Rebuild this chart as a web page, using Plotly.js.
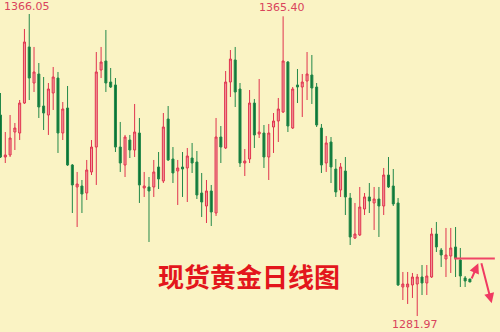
<!DOCTYPE html>
<html>
<head>
<meta charset="utf-8">
<script src="https://cdn.plot.ly/plotly-3.0.1.min.js"></script>
<style>html,body{margin:0;padding:0;background:#faf3c4;}#chart{width:500px;height:332px;}</style>
</head>
<body>
<div id="chart"></div>
<script>
// Daily spot-gold candles
const openP = [1337.93,1326.24,1326.80,1333.20,1332.92,1341.27,1356.87,1346.84,1349.35,1340.44,
1337.93,1344.06,1348.23,1332.92,1339.88,1324.01,1317.89,1318.17,1316.22,1322.07,
1329.02,1350.46,1352.97,1347.12,1346.29,1329.02,1324.01,1330.97,1328.19,1332.92,
1317.61,1317.89,1317.89,1323.46,1319.56,1336.82,1325.68,1322.34,1323.46,1323.18,
1325.96,1324.85,1316.22,1312.60,1316.78,1310.65,1331.81,1328.75,1347.12,1353.25,
1345.17,1324.57,1325.68,1341.27,1332.64,1332.92,1326.24,1334.59,1336.26,1338.77,
1352.69,1334.31,1346.29,1345.73,1347.40,1349.07,1345.73,1334.31,1324.57,1330.42,
1322.90,1317.05,1322.34,1314.83,1303.69,1304.53,1311.76,1315.11,1313.44,1314.55,
1312.60,1321.23,1318.17,1313.44,1290.05,1290.05,1290.61,1290.88,1292.83,1291.16,
1292.83,1304.80,1300.35,1297.84,1298.68,1301.19,1297.57,1292.56,1292.28];
const highP = [1344.06,1333.20,1337.93,1335.71,1342.11,1361.88,1366.05,1356.87,1352.41,1348.51,
1346.84,1351.30,1349.91,1341.55,1346.01,1324.29,1322.07,1319.84,1325.41,1330.97,
1355.47,1356.87,1361.60,1351.02,1348.23,1335.99,1332.37,1332.37,1341.00,1337.10,
1322.07,1320.67,1325.41,1327.63,1338.49,1340.44,1329.02,1325.41,1327.63,1328.75,
1330.14,1327.91,1321.79,1319.84,1318.45,1337.10,1334.87,1350.18,1356.03,1356.87,
1346.84,1328.47,1344.89,1342.39,1347.96,1335.15,1335.43,1338.49,1342.67,1365.40,
1352.97,1345.73,1350.74,1349.35,1355.47,1354.64,1346.84,1335.43,1332.09,1331.81,
1325.68,1324.57,1326.24,1316.22,1313.44,1317.89,1316.22,1319.00,1317.89,1317.89,
1323.18,1326.24,1322.90,1314.83,1294.23,1294.23,1293.95,1293.67,1296.17,1296.17,
1306.48,1308.15,1300.91,1306.48,1306.48,1306.75,1300.91,1293.11,1292.28];
const lowP = [1325.96,1324.57,1326.24,1328.19,1330.97,1341.00,1342.11,1344.34,1337.10,1333.76,
1332.37,1339.33,1327.36,1330.97,1323.74,1310.65,1306.75,1310.65,1314.27,1321.23,
1318.45,1348.23,1344.34,1345.45,1327.63,1322.07,1320.67,1325.96,1326.24,1313.44,
1315.11,1302.58,1315.11,1317.33,1319.00,1325.13,1319.00,1312.88,1315.11,1313.71,
1321.79,1314.55,1309.54,1307.87,1307.03,1309.82,1324.57,1328.47,1342.95,1340.16,
1323.46,1320.95,1324.57,1328.75,1331.53,1323.18,1319.84,1327.36,1330.42,1338.49,
1333.20,1334.04,1341.27,1337.38,1342.11,1341.00,1334.59,1321.79,1322.07,1319.00,
1315.11,1315.11,1310.09,1301.74,1303.41,1304.25,1310.09,1310.65,1305.92,1303.97,
1310.09,1317.61,1312.60,1290.33,1286.43,1285.32,1286.99,1281.97,1287.82,1287.82,
1292.56,1299.79,1295.62,1292.83,1293.95,1292.83,1290.05,1290.05,1291.44];
const closeP = [1326.24,1326.80,1331.53,1334.31,1341.27,1358.26,1348.23,1349.91,1340.16,1338.49,
1345.17,1348.51,1332.92,1339.60,1324.01,1318.45,1318.72,1315.94,1322.62,1329.02,
1349.91,1352.69,1346.84,1345.73,1329.02,1324.57,1331.81,1328.19,1333.20,1318.45,
1318.17,1316.78,1322.07,1320.12,1334.59,1325.41,1321.79,1323.18,1322.90,1326.52,
1324.57,1315.66,1313.71,1316.78,1310.93,1331.81,1329.02,1347.12,1353.52,1344.34,
1324.57,1325.13,1341.27,1332.37,1333.20,1326.24,1332.92,1336.26,1339.60,1352.97,
1334.87,1345.17,1345.73,1347.12,1349.35,1345.45,1335.15,1324.01,1330.14,1323.46,
1316.50,1323.46,1315.11,1303.97,1304.80,1312.32,1315.11,1313.99,1314.55,1312.60,
1321.23,1317.89,1313.16,1290.61,1290.88,1290.88,1292.83,1292.83,1291.16,1293.11,
1304.80,1301.19,1298.96,1298.96,1300.91,1298.12,1293.11,1291.72,1291.44];
const dayIndex = openP.map((_, i) => i + 1);

const highLabel = "1366.05", highDay = 7;
const high2Label = "1365.40", high2Day = 60;
const lowLabel = "1281.97", lowDay = 88;
const chartTitle = "现货黄金日线图";
const resistanceLevel = 1298.0;

const trace = {
  type: 'candlestick',
  x: dayIndex, open: openP, high: highP, low: lowP, close: closeP,
  increasing: {line: {color: '#e0334f', width: 1}, fillcolor: '#f09a9c'},
  decreasing: {line: {color: '#23884a', width: 1}, fillcolor: '#0a7436'},
  whiskerwidth: 0,
  hoverinfo: 'skip',
  showlegend: false
};

const numFont = {family: 'DejaVu Sans', size: 11, color: '#d9435c'};
const layout = {
  width: 500, height: 332,
  margin: {l: 0, r: 0, t: 0, b: 0},
  paper_bgcolor: '#faf3c4', plot_bgcolor: '#faf3c4',
  boxgap: 0.4,
  showlegend: false,
  xaxis: {range: [0.8956, 105.28], visible: false, rangeslider: {visible: false}, fixedrange: true},
  yaxis: {range: [1277.52, 1369.95], visible: false, fixedrange: true},
  shapes: [
    {type: 'line', xref: 'x', yref: 'y', x0: 95.7, x1: 104.2, y0: resistanceLevel, y1: resistanceLevel,
     line: {color: '#f04566', width: 2}}
  ],
  annotations: [
    {x: highDay, y: highP[highDay - 1], xref: 'x', yref: 'y', text: highLabel, showarrow: false,
     xshift: -2, yshift: 8, font: numFont},
    {x: high2Day, y: highP[high2Day - 1], xref: 'x', yref: 'y', text: high2Label, showarrow: false,
     xshift: -1, yshift: 8.5, font: numFont},
    {x: lowDay, y: lowP[lowDay - 1], xref: 'x', yref: 'y', text: lowLabel, showarrow: false,
     xshift: -2, yshift: -8, font: numFont},
    {x: 0.497, y: 0.108, xref: 'paper', yref: 'paper', text: chartTitle, showarrow: false,
     font: {family: 'Noto Sans CJK SC', size: 26, color: '#e3161c', weight: 700}},
    {x: 100.75, y: 1296.65, xref: 'x', yref: 'y', text: '', showarrow: true, ax: -7.3, ay: 16.7,
     arrowhead: 2, arrowsize: 1, arrowwidth: 2, arrowcolor: '#f03a62'},
    {x: 103.55, y: 1285.51, xref: 'x', yref: 'y', text: '', showarrow: true, ax: -10.7, ay: -41.6,
     arrowhead: 2, arrowsize: 1, arrowwidth: 2, arrowcolor: '#f03a62'}
  ]
};

Plotly.newPlot('chart', [trace], layout, {staticPlot: true, displayModeBar: false});
</script>
</body>
</html>
